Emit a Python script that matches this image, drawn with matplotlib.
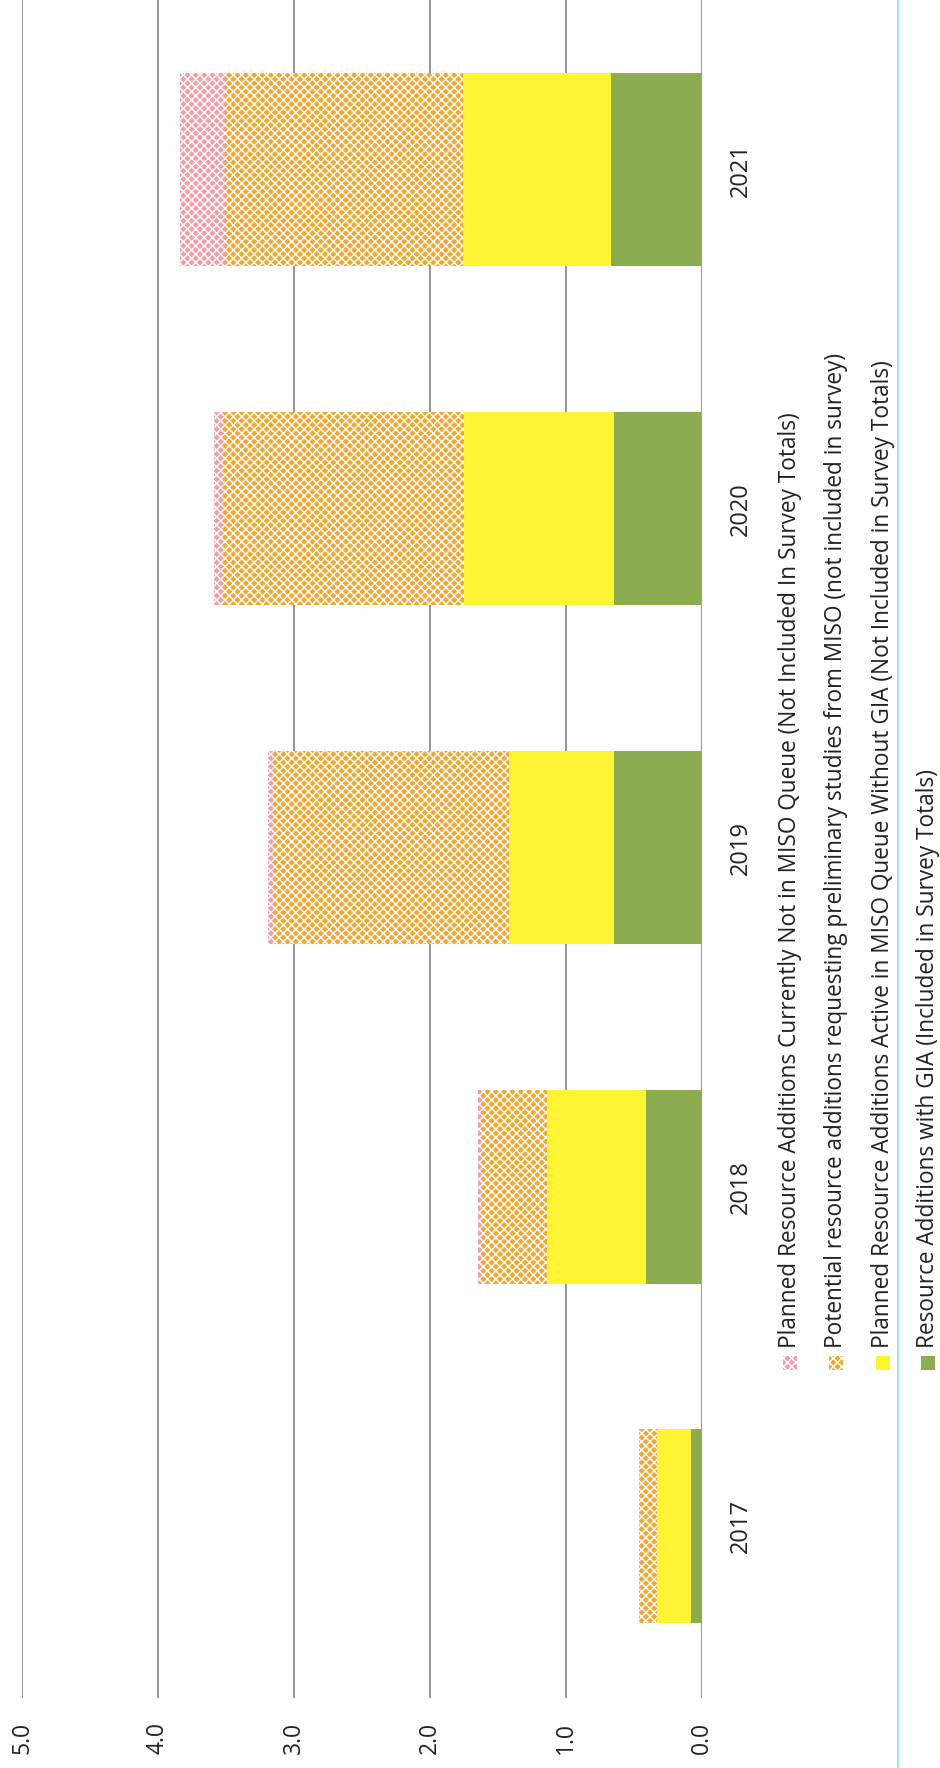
import matplotlib
matplotlib.use("Agg")
import matplotlib.pyplot as plt
from matplotlib.patches import Rectangle
from matplotlib.lines import Line2D
import numpy as np

plt.rcParams["font.family"] = ["Open Sans", "DejaVu Sans"]
plt.rcParams["hatch.linewidth"] = 1.0

# data (GW), stacked bottom -> top
years = ["2017", "2018", "2019", "2020", "2021"]
with_gia = [0.08, 0.41, 0.65, 0.65, 0.67]
active_no_gia = [0.25, 0.73, 0.77, 1.10, 1.09]
potential = [0.13, 0.48, 1.73, 1.77, 1.75]
not_in_queue = [0.00, 0.03, 0.04, 0.07, 0.33]

value_ticks = [0, 1, 2, 3, 4, 5]

legend_labels = [
    "Planned Resource Additions Currently Not in MISO Queue (Not Included In Survey Totals)",
    "Potential resource additions requesting preliminary studies from MISO (not included in survey)",
    "Planned Resource Additions Active in MISO Queue Without GIA (Not Included in Survey Totals)",
    "Resource Additions with GIA (Included in Survey Totals)",
]

GREEN = "#8cad4f"
YELLOW = "#fff433"
ORANGE = "#f0a935"
PINK = "#f2a0a8"
TEXT = "#222222"

W, H = 940, 1768


def fx(x):
    return x / W


def fy(y):
    return 1 - y / H


fig = plt.figure(figsize=(W / 100, H / 100), dpi=100)
ax = fig.add_axes([fx(22), fy(1698), (702 - 22) / W, 1698 / H])

pos = np.arange(len(years))
left = np.zeros(len(years))
series = [
    (with_gia, GREEN, None),
    (active_no_gia, YELLOW, None),
    (potential, ORANGE, "xxxx"),
    (not_in_queue, PINK, "xxxx"),
]
for vals, color, hatch in series:
    ax.barh(pos, vals, height=0.57, left=left, color=color,
            hatch=hatch, edgecolor="white" if hatch else "none",
            linewidth=0, zorder=3)
    left += np.array(vals)

ax.set_xlim(5, 0)
ax.set_ylim(-0.507, 4.50)
ax.set_xticks(value_ticks, [f"{t:.1f}" for t in value_ticks])
ax.grid(axis="x", color="#76777e", lw=1.1, zorder=0)
ax.set_axisbelow(True)
for s in ax.spines.values():
    s.set_visible(False)

ax.tick_params(axis="x", length=0, pad=17, labelrotation=90,
               labelsize=16.5, labelcolor=TEXT)

ax.yaxis.tick_right()
ax.set_yticks(pos, years)
ax.tick_params(axis="y", length=0, pad=19, labelrotation=90,
               labelsize=17, labelcolor=TEXT)
for lab in ax.get_yticklabels():
    lab.set_va("center")
    lab.set_ha("left")

# legend, drawn rotated like the rest of the page
leg_x = [790, 836, 883, 928]
leg_colors = [(PINK, "xxxx"), (ORANGE, "xxxx"), (YELLOW, None), (GREEN, None)]
for x, (color, hatch), label in zip(leg_x, leg_colors, legend_labels):
    fig.add_artist(Rectangle((fx(x - 7), fy(1363 + 7)), 14 / W, 14 / H,
                             transform=fig.transFigure, facecolor=color,
                             hatch=hatch,
                             edgecolor="white" if hatch else "none",
                             linewidth=0))
    fig.text(fx(x), fy(1348), label, rotation=90, ha="center", va="bottom",
             fontsize=16.3, color=TEXT)

# thin cyan page rule at the right
fig.add_artist(Line2D([fx(898), fx(898)], [0, 1], transform=fig.transFigure,
                      color="#8fdcec", lw=1.2))

fig.savefig("out.png", dpi=100)
